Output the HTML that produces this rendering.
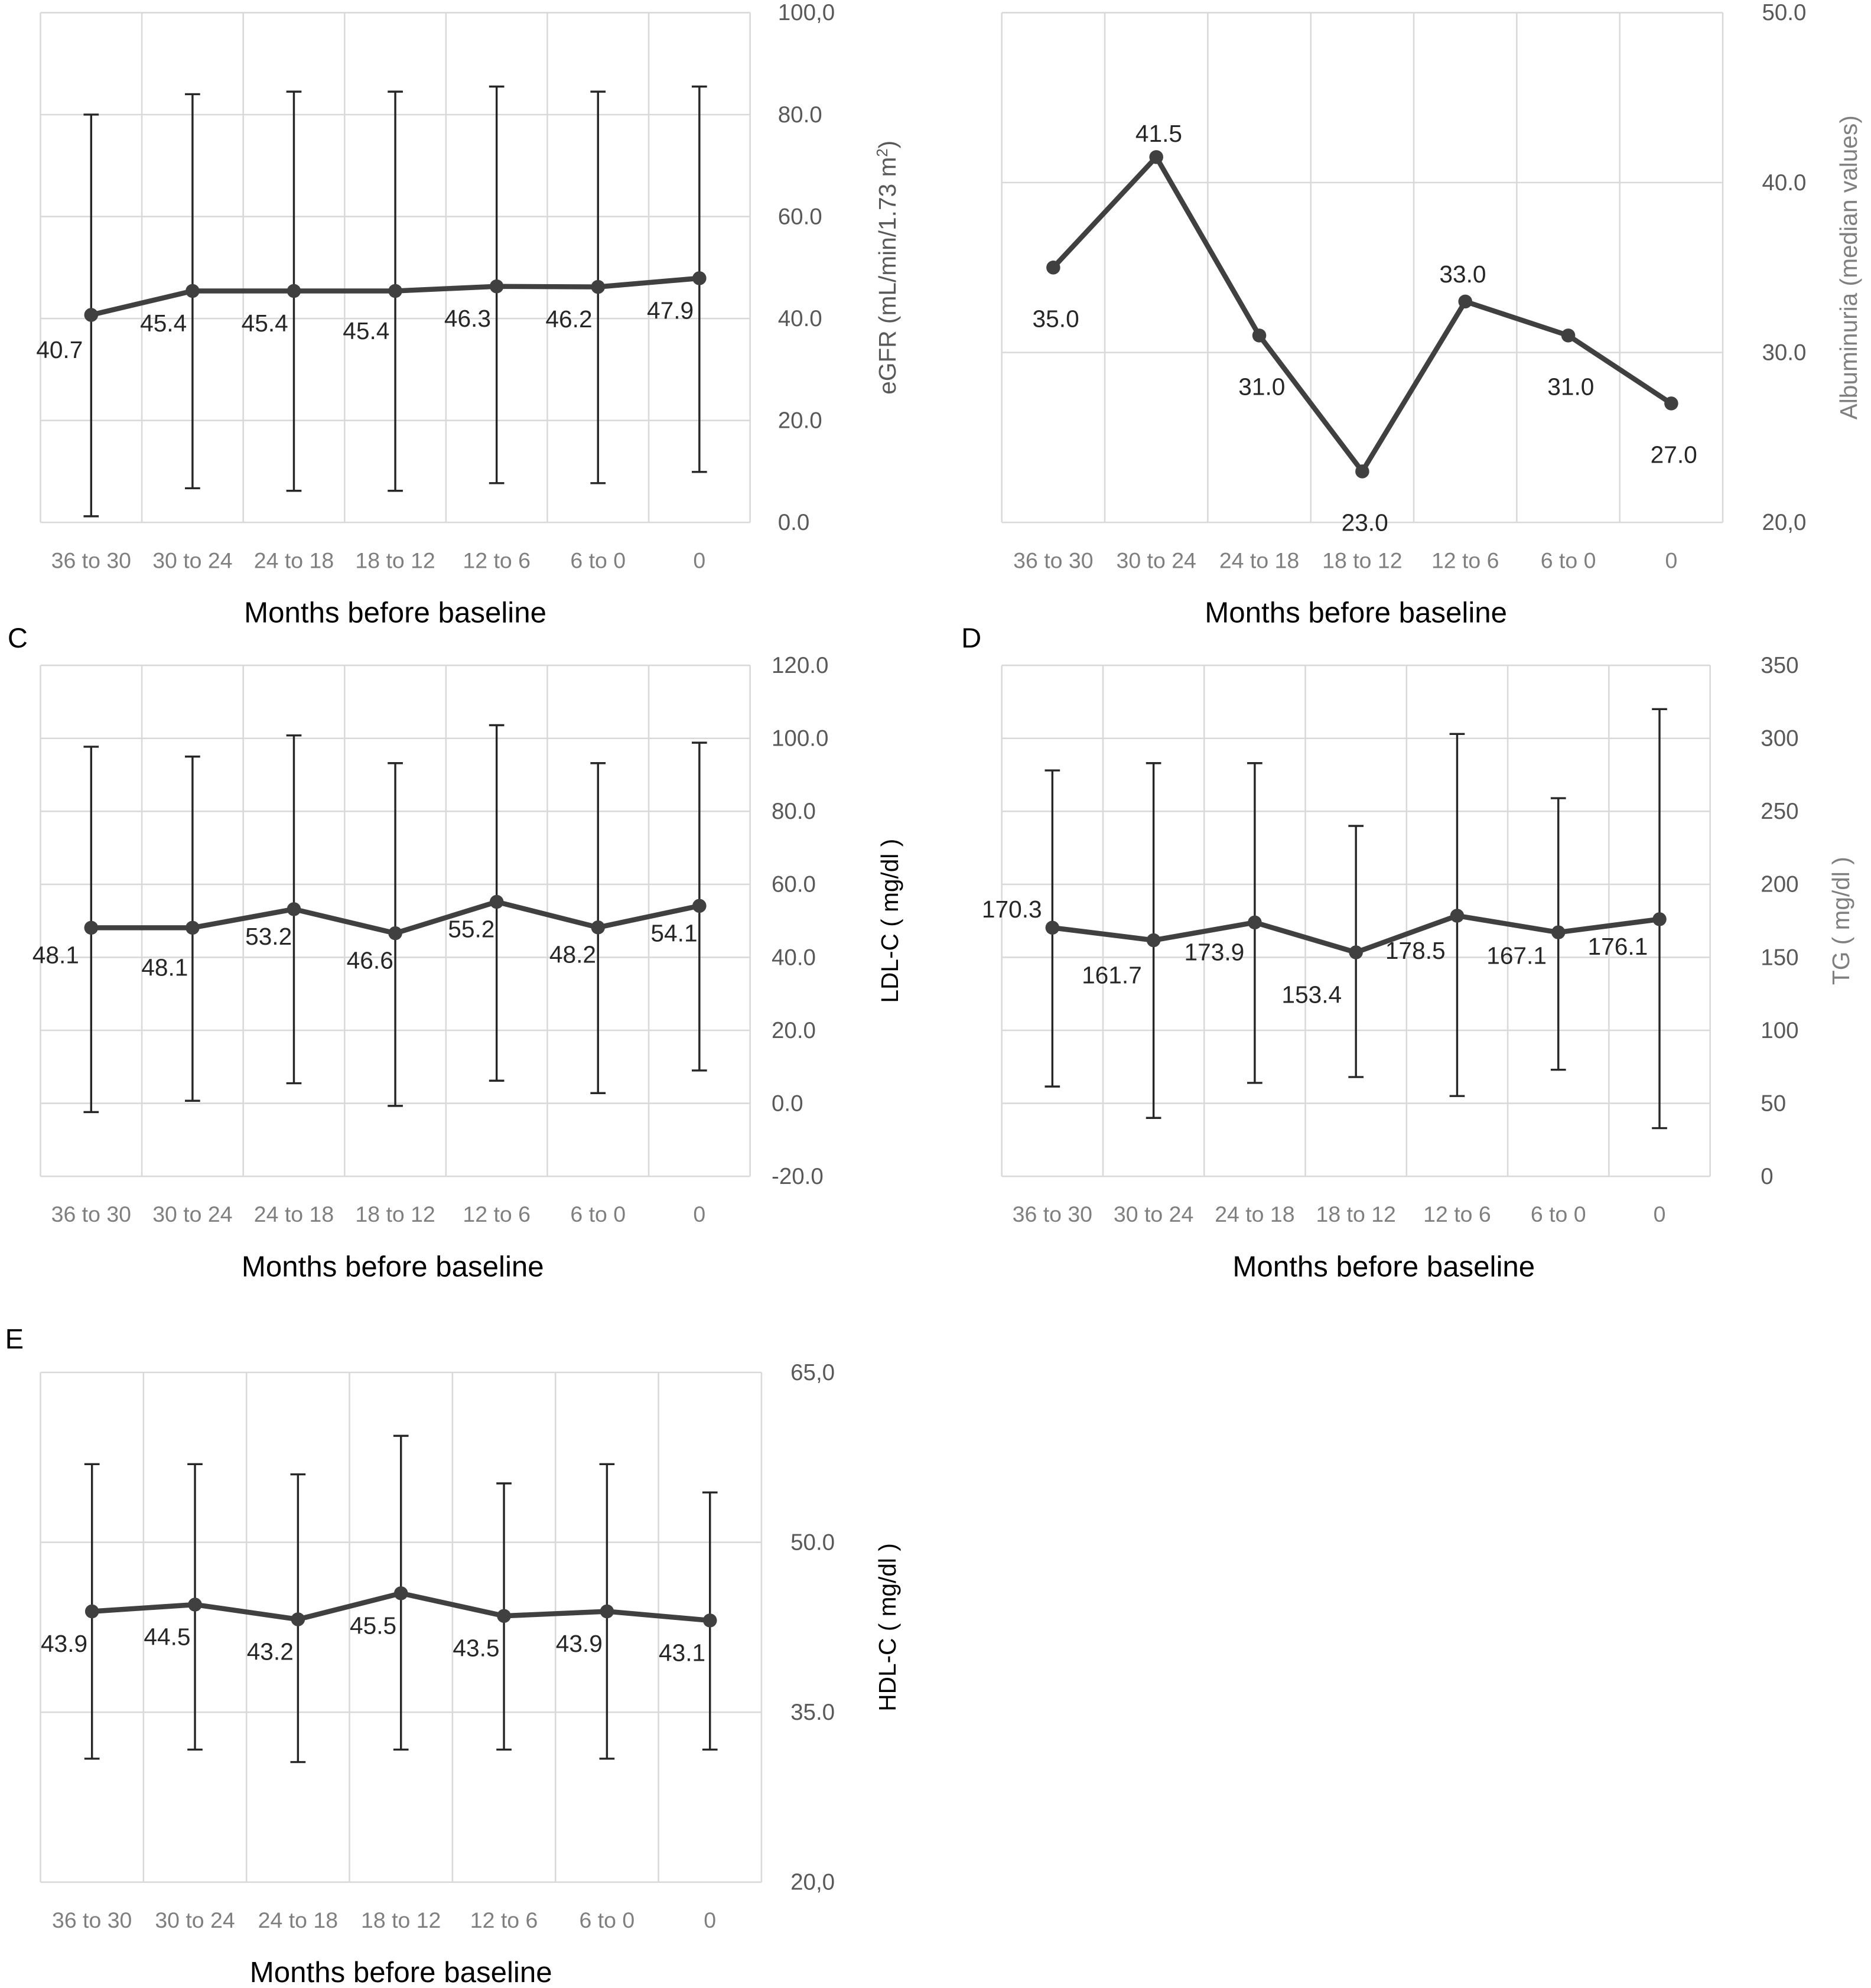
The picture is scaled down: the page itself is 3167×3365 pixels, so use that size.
<!DOCTYPE html>
<html><head><meta charset="utf-8">
<style>html,body{margin:0;padding:0;background:#fff}svg{display:block}</style>
</head><body>
<svg id="fig" width="3167" height="3365" viewBox="0 0 1479.2 1571.7" preserveAspectRatio="none" xmlns="http://www.w3.org/2000/svg" font-family="Liberation Sans, sans-serif"></svg>
<script>
const categories = ["36 to 30","30 to 24","24 to 18","18 to 12","12 to 6","6 to 0","0"];
const egfrMean = [40.7,45.4,45.4,45.4,46.3,46.2,47.9];
const egfrHigh = [80,84,84.5,84.5,85.5,84.5,85.5];
const egfrLow = [1.2,6.7,6.2,6.2,7.7,7.7,9.9];
const egfrTicks = ["0.0","20.0","40.0","60.0","80.0","100,0"];
const albMedian = [35.0,41.5,31.0,23.0,33.0,31.0,27.0];
const albTicks = ["20,0","30.0","40.0","50.0"];
const ldlMean = [48.1,48.1,53.2,46.6,55.2,48.2,54.1];
const ldlHigh = [97.7,95,100.8,93.2,103.6,93.2,98.8];
const ldlLow = [-2.4,0.7,5.5,-0.7,6.2,2.8,9];
const ldlTicks = ["-20.0","0.0","20.0","40.0","60.0","80.0","100.0","120.0"];
const tgMean = [170.3,161.7,173.9,153.4,178.5,167.1,176.1];
const tgHigh = [278,283,283,240,303,259,320];
const tgLow = [61.5,40,64,68,55,73,33];
const tgTicks = ["0","50","100","150","200","250","300","350"];
const hdlMean = [43.9,44.5,43.2,45.5,43.5,43.9,43.1];
const hdlHigh = [56.9,56.9,56,59.4,55.2,56.9,54.4];
const hdlLow = [30.9,31.7,30.6,31.7,31.7,30.9,31.7];
const hdlTicks = ["20,0","35.0","50.0","65,0"];

const svg = document.getElementById('fig');
const NS = 'http://www.w3.org/2000/svg';
function mk(tag, attrs, parent){const e=document.createElementNS(NS,tag);for(const k in attrs)e.setAttribute(k,attrs[k]);(parent||svg).appendChild(e);return e;}

function panel(p){
  const g = mk('g',{});
  
  
  const n = categories.length, cw=(p.x1-p.x0)/n;
  const y = v => p.y1 - (v - p.min)/(p.max-p.min)*(p.y1-p.y0);
  const x = i => p.x0 + cw*(i+0.5);
  for(let i=0;i<=n;i++){
    const l = mk('line',{x1:p.x0+cw*i,x2:p.x0+cw*i,y1:p.y0,y2:p.y1,stroke:'#d9d9d9','stroke-width':1.2},g);
    
    
  }
  p.ticks.forEach((t,i)=>{
    const v = p.min + i*p.step;
    const l = mk('line',{x1:p.x0,x2:p.x1,y1:y(v),y2:y(v),stroke:'#d9d9d9','stroke-width':1.2},g);
    
    
    const tx = mk('text',{x:p.tickX,y:y(v)+6,'font-size':18,fill:'#595959'},g);
    tx.textContent = t;
    
    
  });
  categories.forEach((c,i)=>{
    const tx = mk('text',{x:x(i),y:p.y1+36,'font-size':17.5,fill:'#7f7f7f','text-anchor':'middle'},g);
    tx.textContent = c;
    
    
  });
  if(p.high){
    p.high.forEach((h,i)=>{
      const eb = mk('path',{d:`M${x(i)},${y(h)}V${y(p.low[i])}M${x(i)-6},${y(h)}h12M${x(i)-6},${y(p.low[i])}h12`,stroke:'#262626','stroke-width':1.6,fill:'none'},g);
      
      
    });
  }
  const line = mk('polyline',{points:p.vals.map((v,i)=>x(i)+','+y(v)).join(' '),fill:'none',stroke:'#404040','stroke-width':4},g);
  
  
  p.vals.forEach((v,i)=>{
    const c = mk('circle',{cx:x(i),cy:y(v),r:5.5,fill:'#404040'},g);
    
    
    const off = (p.offs && p.offs[i]) || p.off;
    const t = mk('text',{x:x(i)+off[0],y:y(v)+off[1],'font-size':19,fill:'#262626','text-anchor':'middle'},g);
    t.textContent = v.toFixed(1);
    
    
  });
  const xt = mk('text',{x:(p.x0+p.x1)/2+p.titleDx,y:p.y1+79,'font-size':23,fill:'#000','text-anchor':'middle'},g);
  xt.textContent = 'Months before baseline';
  
  
  const yt = mk('text',{x:0,y:0,'font-size':19,fill:p.ytColor||'#595959','text-anchor':'middle',transform:`translate(${p.ytX},${(p.y0+p.y1)/2}) rotate(-90)`},g);
  yt.innerHTML = p.ytitle;
  
  
  if(p.letter){
    const lt = mk('text',{x:p.letter[0],y:p.letter[1],'font-size':22,fill:'#000'},g);
    lt.textContent = p.letter[2];
    
    
  }
}

panel({name:'panel-a-egfr',x0:32,x1:593,y0:10,y1:413,min:0,max:100,step:20,ticks:egfrTicks,tickX:615,
  vals:egfrMean,high:egfrHigh,low:egfrLow,off:[-23,32],offs:{0:[-25,34],3:[-23,38]},titleDx:0,ytX:708,
  ytitle:'eGFR  (mL/min/1.73 m<tspan baseline-shift="super" font-size="12">2</tspan>)'});
panel({name:'panel-b-albuminuria',x0:792,x1:1362,y0:10,y1:413,min:20,max:50,step:10,ticks:albTicks,tickX:1393,
  vals:albMedian,off:[2,47],offs:{1:[2,-12],4:[-2,-15]},titleDx:-5,ytX:1468,ytColor:'#7f7f7f',
  ytitle:'Albuminuria (median values)'});
panel({name:'panel-c-ldl',x0:32,x1:593,y0:526,y1:930,min:-20,max:120,step:20,ticks:ldlTicks,tickX:610,
  vals:ldlMean,high:ldlHigh,low:ldlLow,off:[-20,28],offs:{0:[-28,28],1:[-22,38]},titleDx:-2,ytX:710,ytColor:'#000',
  ytitle:'LDL-C ( mg/dl )',letter:[6,512,'C']});
panel({name:'panel-d-tg',x0:792,x1:1352,y0:526,y1:930,min:0,max:350,step:50,ticks:tgTicks,tickX:1392,
  vals:tgMean,off:[-33,34],high:tgHigh,low:tgLow,offs:{0:[-32,-8],2:[-32,30],3:[-35,40],5:[-33,25],6:[-33,28]},titleDx:22,ytX:1462,ytColor:'#7f7f7f',
  ytitle:'TG  ( mg/dl )',letter:[760,512,'D']});
panel({name:'panel-e-hdl',x0:32,x1:602,y0:1085,y1:1488,min:20,max:65,step:15,ticks:hdlTicks,tickX:625,
  vals:hdlMean,high:hdlHigh,low:hdlLow,off:[-22,32],titleDx:0,ytX:708,ytColor:'#000',
  ytitle:'HDL-C ( mg/dl )',letter:[4,1066,'E']});
</script>
</body></html>
